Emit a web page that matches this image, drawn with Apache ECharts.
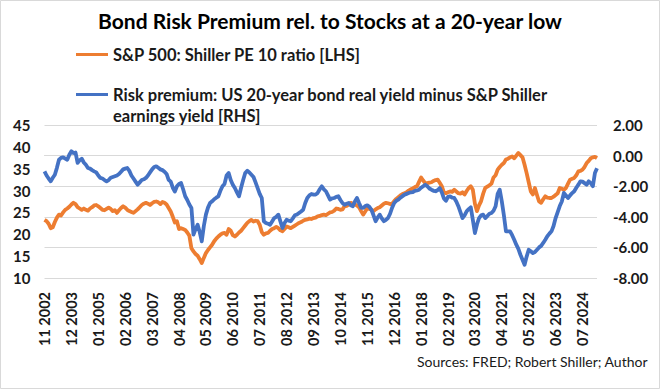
<!DOCTYPE html>
<html><head><meta charset="utf-8">
<script src="https://cdn.jsdelivr.net/npm/echarts@6/dist/echarts.min.js"></script>
<style>html,body{margin:0;padding:0;background:#fff}#c{width:660px;height:389px}</style>
</head><body><div id="c"></div>
<script>
// Monthly data starting Nov 2002
const startYear = 2002, startMonth = 11;

const peRatio = [
 23.3, 23.0, 22.4, 21.4, 21.6, 22.8, 23.8, 24.5, 24.3, 25.0, 25.6, 25.9,
 26.3, 26.8, 27.2, 26.9, 26.2, 25.9, 25.6, 25.9, 25.6, 25.4, 25.9, 26.2,
 26.6, 26.7, 26.4, 26.0, 25.6, 25.5, 25.8, 26.1, 25.8, 25.3, 25.5, 24.9,
 25.5, 26.0, 26.4, 26.1, 25.6, 25.3, 25.1, 24.9, 25.3, 25.7, 26.2, 26.7,
 27.0, 27.2, 27.0, 26.7, 27.1, 27.4, 27.5, 27.3, 26.9, 27.4, 27.2, 26.8,
 26.0, 25.2, 24.0, 22.7, 23.0, 21.2, 21.4, 21.2, 21.0, 20.4, 19.7, 16.8,
 16.1, 15.5, 15.1, 14.3, 13.4, 14.6, 15.7, 16.4, 17.0, 17.6, 18.4, 19.0,
 19.5, 19.9, 20.2, 20.3, 19.9, 21.2, 20.8, 19.8, 19.5, 19.9, 20.4, 20.8,
 21.4, 22.0, 22.6, 23.0, 23.3, 22.9, 23.1, 23.0, 22.2, 20.5, 19.9, 20.2,
 20.3, 20.8, 21.2, 21.4, 21.7, 21.4, 20.9, 20.7, 21.2, 21.8, 21.6, 21.4,
 21.7, 22.0, 22.3, 22.6, 22.8, 23.1, 23.3, 23.4, 23.6, 23.5, 23.7, 23.8,
 24.1, 24.2, 24.4, 24.5, 24.4, 24.7, 25.0, 25.1, 25.4, 25.9, 25.8, 25.6,
 25.7, 26.4, 26.5, 26.8, 27.2, 27.0, 26.8, 26.6, 26.2, 25.3, 24.5, 25.2,
 26.0, 25.8, 25.6, 25.3, 25.7, 26.0, 26.2, 26.6, 27.0, 27.2, 27.1, 26.9,
 27.0, 27.6, 28.1, 28.5, 28.9, 29.2, 29.4, 29.6, 30.0, 30.3, 30.5, 30.8,
 31.0, 32.0, 33.0, 32.3, 31.7, 31.7, 31.8, 31.9, 32.2, 32.4, 32.5, 31.8,
 31.0, 29.6, 29.4, 29.6, 29.8, 29.7, 30.2, 29.8, 29.4, 29.3, 29.6, 29.1,
 29.9, 30.6, 31.0, 30.2, 27.0, 25.3, 26.6, 27.6, 29.3, 30.6, 30.9, 31.2,
 31.6, 33.0, 33.5, 34.8, 35.4, 35.9, 36.3, 37.1, 37.3, 37.6, 37.8, 37.4,
 38.0, 38.6, 38.1, 37.6, 35.9, 34.0, 31.9, 29.8, 29.1, 30.6, 29.0, 27.5,
 27.2, 28.0, 28.7, 28.4, 28.3, 28.3, 28.6, 29.0, 29.4, 30.6, 30.4, 30.2,
 30.6, 31.6, 32.5, 32.7, 32.9, 33.5, 34.4, 34.5, 34.8, 35.4, 36.3, 36.8,
 37.4, 37.6, 37.7, 37.4
];

const riskPremium = [
 -1.03, -1.3, -1.5, -1.68, -1.45, -1.25, -0.8, -0.27, -0.15, -0.11, -0.2, -0.27,
 0.05, 0.28, 0.17, 0.2, -0.48, -0.3, -0.2, -0.45, -0.6, -0.81, -0.85, -0.95,
 -1.03, -1.1, -1.3, -1.46, -1.5, -1.6, -1.68, -1.6, -1.45, -1.4, -1.35, -1.3,
 -1.2, -1.05, -0.9, -0.85, -0.81, -1.0, -1.3, -1.5, -1.7, -1.9, -1.75, -1.6,
 -1.55, -1.46, -1.3, -1.1, -0.9, -0.75, -0.7, -0.8, -0.9, -0.95, -1.05, -1.2,
 -1.58, -1.7, -2.1, -2.35, -2.0, -1.85, -1.79, -2.2, -2.66, -2.9, -3.2, -3.42,
 -5.17, -4.8, -4.52, -5.0, -5.6, -4.6, -3.86, -3.4, -3.1, -2.99, -2.85, -2.75,
 -2.66, -2.3, -2.0, -1.85, -1.3, -1.14, -1.6, -1.9, -2.12, -2.4, -2.66, -2.1,
 -1.6, -1.14, -0.99, -1.1, -1.25, -1.4, -1.75, -2.12, -2.5, -2.77, -4.29, -4.4,
 -4.45, -4.52, -4.3, -4.08, -4.0, -3.86, -4.3, -4.73, -4.4, -4.19, -4.25, -4.29,
 -4.1, -3.9, -3.85, -3.75, -3.65, -3.54, -3.1, -2.77, -2.6, -2.51, -2.55, -2.55,
 -2.44, -2.2, -2.0, -2.2, -2.33, -2.6, -2.88, -2.8, -2.77, -2.7, -2.66, -2.9,
 -3.1, -3.21, -3.15, -3.1, -3.25, -3.31, -3.0, -2.77, -3.1, -3.4, -3.42, -3.3,
 -3.25, -3.35, -3.54, -3.9, -4.29, -4.05, -3.86, -4.1, -4.29, -4.2, -4.08, -3.8,
 -3.4, -3.1, -2.95, -2.88, -2.75, -2.65, -2.55, -2.5, -2.45, -2.4, -2.38, -2.3,
 -2.28, -2.23, -2.1, -2.0, -1.9, -2.0, -2.15, -2.23, -2.3, -2.33, -2.25, -2.12,
 -2.4, -2.8, -2.95, -2.7, -2.66, -2.75, -2.77, -3.0, -3.31, -3.7, -4.08, -3.9,
 -3.64, -3.5, -3.38, -4.2, -5.06, -4.5, -4.08, -3.9, -3.86, -4.08, -3.95, -3.8,
 -3.75, -3.6, -3.31, -2.5, -2.23, -2.99, -3.9, -4.95, -4.95, -4.95, -5.2, -5.5,
 -5.82, -6.1, -6.48, -6.8, -7.13, -6.6, -6.15, -6.25, -6.37, -6.3, -6.15, -6.0,
 -5.9, -5.71, -5.5, -5.27, -5.1, -4.95, -4.6, -4.08, -3.7, -3.3, -3.0, -2.44,
 -2.6, -2.77, -2.6, -2.45, -2.33, -2.1, -1.9, -1.68, -1.7, -1.8, -1.9, -1.68,
 -1.8, -2.0, -1.14, -0.83
];

const leftAxis = {min: 10, max: 45, interval: 5};
const rightAxis = {min: -8, max: 2, interval: 2};

const categories = [];
for (let i = 0; i < peRatio.length; i++) {
  const t = (startMonth - 1) + i;
  const y = startYear + Math.floor(t / 12);
  const m = (t % 12) + 1;
  categories.push((m < 10 ? '0' : '') + m + ' ' + y);
}

const peName = 'S&P 500: Shiller PE 10 ratio [LHS]';
const rpName = 'Risk premium: US 20-year bond real yield minus S&P Shiller earnings yield [RHS]';
const FONT = 'Lato';

const chart = echarts.init(document.getElementById('c'), null, {renderer: 'svg'});
chart.setOption({
  animation: false,
  backgroundColor: '#fff',
  textStyle: {fontFamily: FONT},
  title: [{
    text: 'Bond Risk Premium rel. to Stocks at a 20-year low',
    left: 'center', top: 10, padding: 0,
    textStyle: {fontFamily: FONT, fontSize: 21, fontWeight: 'bold', color: '#000'}
  }, {
    text: 'Sources: FRED; Robert Shiller; Author',
    right: 12, top: 354, padding: 0,
    textStyle: {fontFamily: FONT, fontSize: 14, fontWeight: 'normal', color: '#1a1a1a'}
  }],
  legend: [{
    data: [peName], left: 76, top: 45, padding: 0, icon: 'rect',
    itemWidth: 32, itemHeight: 3,
    textStyle: {fontFamily: FONT, fontSize: 16.5, fontWeight: 'bold', color: '#1a1a1a', lineHeight: 19}
  }, {
    data: [rpName], left: 76, top: 63, padding: 0, icon: 'rect',
    itemWidth: 32, itemHeight: 3,
    formatter: () => '\nRisk premium: US 20-year bond real yield minus S&P Shiller\nearnings yield [RHS]',
    textStyle: {fontFamily: FONT, fontSize: 16.5, fontWeight: 'bold', color: '#1a1a1a', lineHeight: 21}
  }],
  grid: {left: 44.5, right: 63, top: 125, bottom: 111},
  xAxis: {
    type: 'category', data: categories, boundaryGap: false,
    axisLine: {show: true, lineStyle: {color: '#d9d9d9', width: 1}},
    axisTick: {show: false},
    axisLabel: {interval: 12, rotate: 90, margin: 14, fontFamily: FONT, fontSize: 14.5, fontWeight: 'bold', color: '#1a1a1a'},
    splitLine: {show: false}
  },
  yAxis: [{
    type: 'value', position: 'left',
    min: leftAxis.min, max: leftAxis.max, interval: leftAxis.interval,
    axisLine: {show: false}, axisTick: {show: false}, splitLine: {show: false},
    axisLabel: {margin: 14, fontFamily: FONT, fontSize: 15, fontWeight: 'bold', color: '#1a1a1a'}
  }, {
    type: 'value', position: 'right',
    min: rightAxis.min, max: rightAxis.max, interval: rightAxis.interval,
    axisLine: {show: false}, axisTick: {show: false},
    splitLine: {show: true, lineStyle: {color: '#d9d9d9', width: 1}},
    axisLabel: {margin: 16, fontFamily: FONT, fontSize: 15, fontWeight: 'bold', color: '#1a1a1a',
      formatter: v => v.toFixed(2)}
  }],
  series: [{
    name: peName, type: 'line', yAxisIndex: 0, data: peRatio,
    showSymbol: false, symbol: 'none', color: '#ED7D31',
    lineStyle: {width: 3.8, color: '#ED7D31', join: 'round'}, emphasis: {disabled: true}
  }, {
    name: rpName, type: 'line', yAxisIndex: 1, data: riskPremium,
    showSymbol: false, symbol: 'none', color: '#4472C4',
    lineStyle: {width: 3.8, color: '#4472C4', join: 'round'}, emphasis: {disabled: true}
  }],
  graphic: [{
    type: 'rect', silent: true, z: -1,
    shape: {x: 0.5, y: 0.5, width: 659, height: 388},
    style: {fill: 'none', stroke: '#d9d9d9', lineWidth: 1}
  }]
});
</script></body></html>
